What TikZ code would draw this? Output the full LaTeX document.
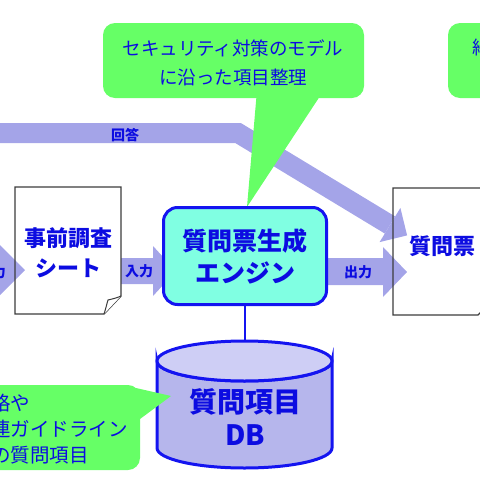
\documentclass[tikz,border=0pt]{standalone}
\usepackage{fontspec}
\setmainfont{Noto Sans CJK JP}
\definecolor{txtblue}{RGB}{12,12,225}
\definecolor{callgreen}{RGB}{102,255,102}
\definecolor{bandpurple}{RGB}{164,164,232}
\definecolor{engfill}{RGB}{128,255,226}
\definecolor{dbfill}{RGB}{182,182,236}
\definecolor{dbtopfill}{RGB}{206,206,245}
\definecolor{edgeblue}{RGB}{20,20,240}
\definecolor{docgray}{RGB}{60,60,60}
\begin{document}
\begin{tikzpicture}[x=1pt,y=-1pt,
  calltxt/.style={text=txtblue, font=\fontsize{18.5}{29}\selectfont, inner sep=0pt, align=center},
  boxtxt/.style={text=txtblue, font=\bfseries\fontsize{25}{32}\selectfont, align=center, inner sep=0pt},
  bandtxt/.style={text=txtblue, font=\bfseries\fontsize{14}{16}\selectfont, inner sep=0pt},
  band/.style={fill=bandpurple, draw=none},
  callout/.style={fill=callgreen, draw=none, rounded corners=12pt},
  docline/.style={draw=docgray, line width=1.4pt, line join=miter},
  enginebox/.style={draw=edgeblue, line width=3pt, rounded corners=14pt, fill=engfill,
    minimum width=163pt, minimum height=97pt, text=txtblue,
    font=\bfseries\fontsize{25}{32}\selectfont, align=center, inner sep=0pt},
]
\useasboundingbox (0,0) rectangle (480,480);
\clip (0,0) rectangle (480,480);

% --- answer band (behind callout pointer)
\coordinate (ansA) at (-10,133);
\coordinate (ansB) at (238,133);
\coordinate (ansC) at (390,225);
\draw[bandpurple, line width=20pt, line join=miter] (ansA) -- (ansB) -- (ansC);
\fill[band] (379.6,242.1) -- (407.1,235.4) -- (400.4,207.9) -- cycle;
\node[bandtxt] (anslbl) at (125,135) {回答};

% --- top callout
\fill[callout] (103,23) rectangle (364,98);
\fill[callgreen] (257,90) -- (324,90) -- (247,207) -- cycle;
\node[calltxt] (calltop) at (233,63) {セキュリティ対策のモデル\\に沿った項目整理};

% --- top right callout (cut off)
\fill[callout] (448,23) rectangle (530,98);
\node[calltxt, anchor=west] (callright) at (472,47) {紹};

% --- block arrows
\fill[band] (-10,257) -- (-1,257) -- (-1,244) -- (25,270) -- (-1,296) -- (-1,283) -- (-10,283) -- cycle;
\node[bandtxt, anchor=east] (leftlbl) at (6,272) {力};
\fill[band] (121,258) -- (153,258) -- (153,246) -- (176,271) -- (153,296) -- (153,284) -- (121,284) -- cycle;
\node[bandtxt] (inlbl) at (139,271) {入力};
\fill[band] (328,258) -- (383,258) -- (383,247) -- (407,272) -- (383,297) -- (383,285) -- (328,285) -- cycle;
\node[bandtxt] (outlbl) at (358,272) {出力};

% --- left document
\draw[docline] (15,187) -- (121,187) -- (121,296) -- (104,314) -- (15,314) -- cycle;
\draw[docline, line width=1pt, fill=white] (104,314) .. controls (106,308) and (107,303) .. (108,300) .. controls (112,299) and (117,298) .. (121,296);
\node[boxtxt, font=\bfseries\fontsize{22}{30}\selectfont] (doc1) at (68,253) {事前調査\\シート};

% --- right document
\draw[docline] (393,188) -- (496,188) -- (496,297) -- (478,315) -- (393,315) -- cycle;
\node[boxtxt, font=\bfseries\fontsize{22}{30}\selectfont] (doc2) at (442,246) {質問票};

% --- engine
\node[enginebox] (engine) at (245,256) {質問票生成\\エンジン};

% --- DB cylinder
\coordinate (dbtop) at (245,341);
\draw[edgeblue, line width=1.5pt] (engine.south) -- (dbtop);
\draw[edgeblue, line width=3pt, fill=dbfill]
  (157,361) -- (157,448) arc[start angle=180, end angle=0, x radius=87.5, y radius=20]
  -- (332,361) arc[start angle=0, end angle=180, x radius=87.5, y radius=20] -- cycle;
\draw[edgeblue, line width=3pt, fill=dbtopfill] (244.5,361) ellipse[x radius=87.5, y radius=20];
\node[boxtxt, font=\bfseries\fontsize{28}{33}\selectfont] (db) at (245,417) {質問項目\\DB};

% --- bottom left callout (cut off)
\fill[callout] (-30,385) rectangle (140,470);
\fill[callgreen] (136,388) -- (171,396) -- (136,422) -- cycle;
\node[calltxt, font=\fontsize{19.5}{26}\selectfont, anchor=west] (bl1) at (-9,403) {格や};
\node[calltxt, font=\fontsize{19.5}{26}\selectfont, anchor=west] (bl2) at (-9,429) {連ガイドライン};
\node[calltxt, font=\fontsize{19.5}{26}\selectfont, anchor=west] (bl3) at (-9,455) {の質問項目};
\end{tikzpicture}
\end{document}
